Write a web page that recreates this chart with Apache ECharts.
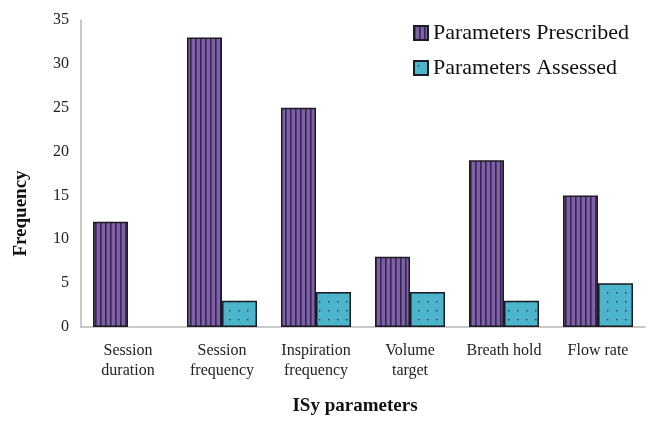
<!DOCTYPE html>
<html><head><meta charset="utf-8">
<script src="https://cdn.jsdelivr.net/npm/echarts@6/dist/echarts.min.js"></script>
<style>html,body{margin:0;padding:0;background:#fff}#c{width:660px;height:425px}</style>
</head><body><div id="c"></div>
<script>
var categories = ['Session\nduration','Session\nfrequency','Inspiration\nfrequency','Volume\ntarget','Breath hold','Flow rate'];
var prescribed = [12, 33, 25, 8, 19, 15];
var assessed = [null, 3, 4, 4, 3, 5];
var yTicks = {min: 0, max: 35, interval: 5};

function stripes(){
  var c = document.createElement('canvas'); c.width = 5; c.height = 4;
  var g = c.getContext('2d');
  g.fillStyle = '#7f5fa8'; g.fillRect(0,0,5,4);
  g.fillStyle = '#35284d'; g.fillRect(0,0,1.6,4);
  return c;
}
function dots(){
  var c = document.createElement('canvas'); c.width = 9; c.height = 9;
  var g = c.getContext('2d');
  g.fillStyle = '#4cb5cb'; g.fillRect(0,0,9,9);
  g.fillStyle = '#1d3a44'; g.fillRect(4,4,1.4,1.4);
  return c;
}
var chart = echarts.init(document.getElementById('c'), null, {renderer:'canvas'});
var font = 'Liberation Serif';
chart.setOption({
  animation:false,
  textStyle:{fontFamily:font},
  grid:{left:81, right:15, top:20, bottom:98},
  legend:{
    orient:'vertical', left:408, top:17, itemGap:13, itemWidth:14, itemHeight:14, icon:'rect',
    textStyle:{fontFamily:font, fontSize:22, color:'#111'},
    data:['Parameters Prescribed','Parameters Assessed']
  },
  xAxis:{
    type:'category', data:categories,
    axisLine:{lineStyle:{color:'#b8b8b8', width:1.5}},
    axisTick:{show:false},
    axisLabel:{fontFamily:font, fontSize:16, color:'#222', lineHeight:20, margin:14, interval:0},
    name:'ISy parameters', nameLocation:'middle', nameGap:70,
    nameTextStyle:{fontFamily:font, fontSize:19, fontWeight:'bold', color:'#111', padding:[0,16,0,0]}
  },
  yAxis:{
    type:'value', min:yTicks.min, max:yTicks.max, interval:yTicks.interval,
    axisLine:{show:true, lineStyle:{color:'#b8b8b8', width:1.5}},
    axisTick:{show:false}, splitLine:{show:false},
    axisLabel:{fontFamily:font, fontSize:16, color:'#222', margin:12},
    name:'Frequency', nameLocation:'middle', nameGap:50,
    nameTextStyle:{fontFamily:font, fontSize:19, fontWeight:'bold', color:'#111', padding:[0,80,0,0]}
  },
  series:[
    {name:'Parameters Prescribed', type:'bar', data:prescribed, barWidth:35, barGap:'0%',
     itemStyle:{color:{image:stripes(), repeat:'repeat'}, borderColor:'#1b1b22', borderWidth:1.5}},
    {name:'Parameters Assessed', type:'bar', data:assessed, barWidth:35,
     itemStyle:{color:{image:dots(), repeat:'repeat'}, borderColor:'#1b1b22', borderWidth:1.5}}
  ]
});
</script></body></html>
